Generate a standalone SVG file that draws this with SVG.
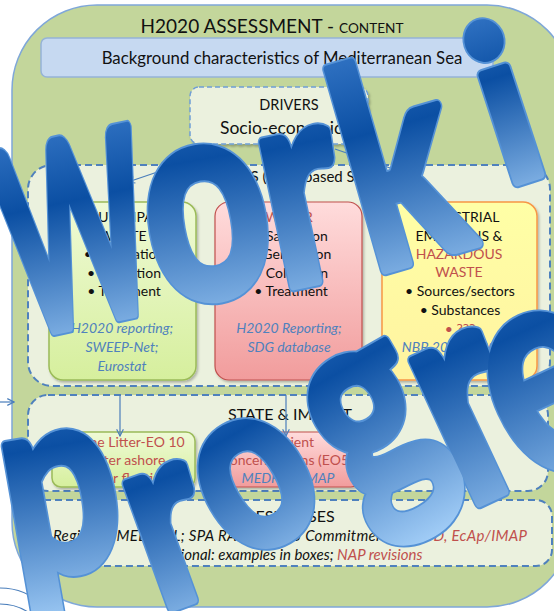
<svg xmlns="http://www.w3.org/2000/svg" xmlns:xlink="http://www.w3.org/1999/xlink" width="554" height="611" viewBox="0 0 554 611">
<defs>
<linearGradient id="gGreen" x1="0" y1="0" x2="0" y2="1"><stop offset="0" stop-color="#effad6"/><stop offset="1" stop-color="#d6ef9d"/></linearGradient>
<linearGradient id="gRed" x1="0" y1="0" x2="0" y2="1"><stop offset="0" stop-color="#ffdcdc"/><stop offset="1" stop-color="#f19c9c"/></linearGradient>
<linearGradient id="gYellow" x1="0" y1="0" x2="0" y2="1"><stop offset="0" stop-color="#ffffa6"/><stop offset="1" stop-color="#fff3a0"/></linearGradient>
<linearGradient id="wm" x1="0" y1="0" x2="0" y2="1"><stop offset="0" stop-color="#4a8ad8"/><stop offset="0.42" stop-color="#0b4fa3"/><stop offset="1" stop-color="#a4cff8"/></linearGradient>
<filter id="sh" x="-10%" y="-10%" width="130%" height="130%"><feDropShadow dx="1.5" dy="2" stdDeviation="1.2" flood-color="#000" flood-opacity="0.25"/></filter>
<marker id="arr" viewBox="0 0 10 10" refX="9" refY="5" markerWidth="7" markerHeight="7" orient="auto"><path d="M1,1 L9,5 L1,9" fill="none" stroke="#4a7ebb" stroke-width="1.4"/></marker>
<style>
text{font-family:Lato,"Liberation Sans",sans-serif;}
.t{font-size:14px;fill:#111;text-anchor:middle;}
.r{fill:#c0504d;}
.b{fill:#4f81bd;font-style:italic;}
.dash{fill:#ebf1de;stroke:#4f81bd;stroke-width:2;stroke-dasharray:7,4;}
.gbox{fill:url(#gGreen);stroke:#9bbb59;stroke-width:1.5;}
.rbox{fill:url(#gRed);stroke:#c0504d;stroke-width:1.2;}
.ybox{fill:url(#gYellow);stroke:#f79646;stroke-width:1.5;}
.wl{font-family:Lato,"Liberation Sans",sans-serif;font-weight:700;text-anchor:middle;}
.wOut{fill:#5592d6;stroke:#5592d6;stroke-width:13;stroke-linejoin:round;}
.wIn{fill:url(#wm);stroke:url(#wm);stroke-width:9;stroke-linejoin:round;}
</style>
<text id="L1" class="wl" style="font-size:255px" transform="translate(75,232) rotate(-12) scale(0.56,1)" y="92">W</text>
<text id="L2" class="wl" style="font-size:285px" transform="translate(208,225) rotate(-10) scale(0.76,1)" y="72">o</text>
<text id="L3" class="wl" style="font-size:285px" transform="translate(304,210) rotate(-12) scale(0.74,1)" y="72">r</text>
<text id="L4" class="wl" style="font-size:280px" transform="translate(398,162) rotate(-16) scale(0.74,1)" y="100">k</text>
<text id="L5" class="wl" style="font-size:218px" transform="translate(504,102) rotate(-18) scale(0.9,1)" y="80">i</text>
<text id="L6" class="wl" style="font-size:260px" transform="translate(62,505) rotate(-10) scale(0.78,1)" y="66">p</text>
<text id="L7" class="wl" style="font-size:255px" transform="translate(172,538) rotate(-20) scale(0.76,1)" y="65">r</text>
<text id="L8" class="wl" style="font-size:238px" transform="translate(256,484) rotate(-30) scale(0.8,1)" y="61">o</text>
<text id="L9" class="wl" style="font-size:280px" transform="translate(374,426) rotate(-30) scale(0.76,1)" y="71">g</text>
<text id="L10" class="wl" style="font-size:305px" transform="translate(472,420) rotate(-25) scale(0.76,1)" y="78">r</text>
<text id="L11" class="wl" style="font-size:300px" transform="translate(552,394) rotate(-25) scale(0.76,1)" y="76">e</text>
</defs>
<rect width="554" height="611" fill="#ffffff"/>
<g id="container">
<rect x="12" y="5" width="560" height="602" rx="85" ry="85" fill="#c3d69b" stroke="#7fa7d9" stroke-width="1.5"/>
<text x="272" y="33" style="font-size:19px;fill:#111;text-anchor:middle">H2020 ASSESSMENT - <tspan style="font-size:13.6px">CONTENT</tspan></text>
</g>
<g id="background">
<rect x="41" y="38" width="452" height="39" rx="6" fill="#c6d9f1" stroke="#95b3d7" stroke-width="1.5"/>
<text x="282" y="64" style="font-size:16.8px;fill:#111;text-anchor:middle">Background characteristics of Mediterranean Sea</text>
</g>
<g id="drivers">
<rect x="190" y="87" width="178" height="57" rx="9" fill="#ebf1de" stroke="#6f9ed6" stroke-width="1.5" stroke-dasharray="5,3" filter="url(#sh)"/>
<text x="289" y="110" style="font-size:14.5px;fill:#111;text-anchor:middle">DRIVERS</text>
<text x="220" y="134" style="font-size:17.5px;fill:#111">Socio-economics</text>
</g>
<g id="pressures">
<rect x="28" y="165" width="522" height="221" rx="24" class="dash"/>
<text x="290" y="182" style="font-size:15px;fill:#111;text-anchor:middle">PRESSURES (Land-based Sources)</text>
</g>
<g id="municipal">
<rect x="49" y="202" width="147" height="178" rx="14" class="gbox" filter="url(#sh)"/>
<text class="t" x="123" y="222">MUNICIPAL</text>
<text class="t" x="123" y="241">WASTE</text>
<text class="t" x="124" y="259">•  Generation</text>
<text class="t" x="124" y="278">•  Collection</text>
<text class="t" x="124" y="296">•  Treatment</text>
<text class="t b" x="122" y="333">H2020 reporting;</text>
<text class="t b" x="122" y="352">SWEEP-Net;</text>
<text class="t b" x="122" y="371">Eurostat</text>
</g>
<g id="water">
<rect x="215" y="202" width="147" height="178" rx="14" class="rbox" filter="url(#sh)"/>
<text class="t r" x="289" y="222">WATER</text>
<text class="t" x="291" y="241">•  Sanitation</text>
<text class="t" x="291" y="259">•  Generation</text>
<text class="t" x="291" y="278">•  Collection</text>
<text class="t" x="291" y="296">•  Treatment</text>
<text class="t b" x="289" y="333">H2020 Reporting;</text>
<text class="t b r" x="289" y="352">SDG database</text>
</g>
<g id="industrial">
<rect x="382" y="202" width="155" height="178" rx="14" class="ybox" filter="url(#sh)"/>
<text class="t" x="459" y="222">INDUSTRIAL</text>
<text class="t" x="459" y="241">EMISSIONS &amp;</text>
<text class="t r" x="459" y="259">HAZARDOUS</text>
<text class="t r" x="459" y="277">WASTE</text>
<text class="t" x="460" y="296">•  Sources/sectors</text>
<text class="t" x="460" y="315">•  Substances</text>
<text class="t r" x="460" y="334">•  ???</text>
<text class="t b" x="459" y="352">NBB 2003 &amp; 2008;</text>
<text class="t b" x="459" y="371">(PRTR)</text>
</g>
<g id="state">
<rect x="28" y="395" width="520" height="96" rx="20" class="dash"/>
<text x="290" y="420" style="font-size:16px;fill:#111;text-anchor:middle">STATE &amp; IMPACT</text>
</g>
<g id="marine-litter">
<rect x="52" y="432" width="143" height="55" rx="9" class="gbox" filter="url(#sh)"/>
<text class="t r" x="123" y="447">Marine Litter-EO 10</text>
<text class="t r" x="123" y="465">•  litter ashore</text>
<text class="t r" x="123" y="483">•  litter floating</text>
</g>
<g id="nutrients">
<rect x="217" y="432" width="143" height="55" rx="9" class="rbox" filter="url(#sh)"/>
<text class="t r" x="288" y="447">Nutrient</text>
<text class="t r" x="288" y="465">concentrations (EO5)</text>
<text class="t b" x="288" y="483">MEDPOL/IMAP</text>
</g>
<g id="responses">
<rect x="28" y="500" width="524" height="66" rx="16" class="dash"/>
<text x="290" y="522" style="font-size:16px;fill:#111;text-anchor:middle">RESPONSES</text>
<text x="290" y="541" textLength="474" lengthAdjust="spacing" style="font-size:15px;fill:#111;text-anchor:middle;font-style:italic">Regional: MED POL; SPA RAC; H2020 Commitments; <tspan class="r">MSSD, EcAp/IMAP</tspan></text>
<text x="290" y="560" style="font-size:15px;fill:#111;text-anchor:middle;font-style:italic">National: examples in boxes; <tspan class="r">NAP revisions</tspan></text>
</g>
<g id="connectors" fill="none" stroke="#4a7ebb" stroke-width="1.2">
<path d="M225,149 L128,182" marker-end="url(#arr)"/>
<path d="M335,149 L425,180" marker-end="url(#arr)"/>
<path d="M120,395 L120,436" marker-end="url(#arr)"/>
<path d="M286,395 L286,436" marker-end="url(#arr)"/>
<path d="M0,402 L14,402" marker-end="url(#arr)"/>
<circle cx="0" cy="650" r="62"/>
<circle cx="0" cy="656" r="52"/>
</g>
<g id="watermark">
<g class="wOut">
<use xlink:href="#L1"/><use xlink:href="#L2"/><use xlink:href="#L3"/><use xlink:href="#L4"/><use xlink:href="#L5"/><use xlink:href="#L6"/><use xlink:href="#L7"/><use xlink:href="#L8"/><use xlink:href="#L9"/><use xlink:href="#L10"/><use xlink:href="#L11"/>
</g>
<g class="wIn">
<use xlink:href="#L1"/><use xlink:href="#L2"/><use xlink:href="#L3"/><use xlink:href="#L4"/><use xlink:href="#L5"/><use xlink:href="#L6"/><use xlink:href="#L7"/><use xlink:href="#L8"/><use xlink:href="#L9"/><use xlink:href="#L10"/><use xlink:href="#L11"/>
</g>
</g>
</svg>
